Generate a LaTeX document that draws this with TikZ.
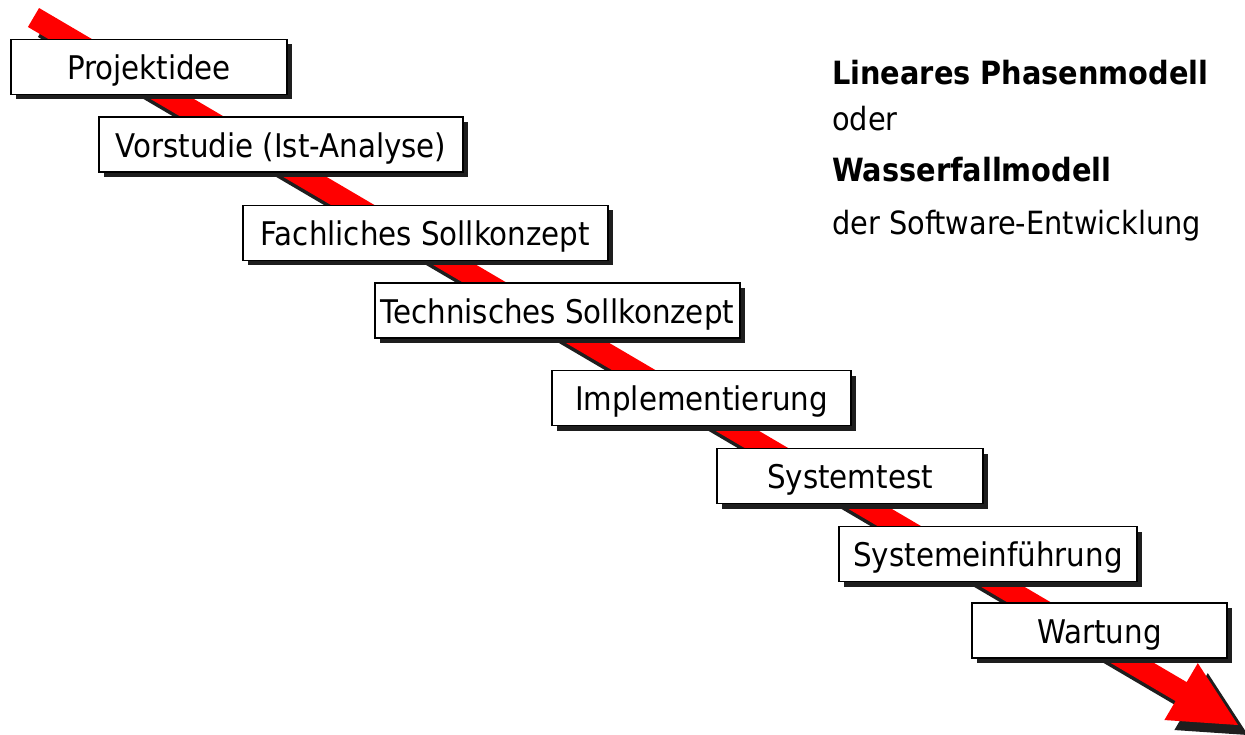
\documentclass[tikz,border=0pt]{standalone}
\usepackage{fontspec}
\setmainfont{DejaVu Sans Condensed}
\usetikzlibrary{shadows}
\definecolor{shadowgray}{HTML}{1E1E1E}
\definecolor{flowred}{HTML}{FF0000}
% outline of the long arrow, drawn along the x axis from its tail
\newcommand\waterfallarrow{(0,-11) -- (1331,-11) -- (1331,-33) -- (1397,0) -- (1331,33) -- (1331,11) -- (0,11) -- cycle}
\begin{document}
\begin{tikzpicture}[x=1pt,y=-1pt,
  phasebox/.style={draw=black, line width=1.6pt, fill=white, inner sep=0pt,
    minimum height=55pt, text height=25.5pt, text depth=0pt,
    font=\fontsize{32.6}{38}\selectfont,
    drop shadow={shadow xshift=5pt, shadow yshift=-5pt, fill=shadowgray, opacity=1}},
  titleline/.style={anchor=base west, inner sep=0pt, font=\fontsize{32}{38}\selectfont\bfseries},
  plainline/.style={anchor=base west, inner sep=0pt, font=\fontsize{32}{38}\selectfont}]
\useasboundingbox (0,0) rectangle (1245,735);

% arrow with its shadow
\fill[shadowgray, shift={(43.5,27.5)}, rotate=-30.43] \waterfallarrow;
\fill[flowred, shift={(33.5,17.5)}, rotate=-30.43] \waterfallarrow;

% phases
\node[phasebox, minimum width=276pt] (p1) at (149,67)    {Projektidee};
\node[phasebox, minimum width=364pt] (p2) at (281,144.5) {Vorstudie (Ist-Analyse)};
\node[phasebox, minimum width=365pt] (p3) at (425.5,233) {Fachliches Sollkonzept};
\node[phasebox, minimum width=365pt] (p4) at (557.5,310.5) {Technisches Sollkonzept};
\node[phasebox, minimum width=299pt] (p5) at (701.5,398) {Implementierung};
\node[phasebox, minimum width=266pt] (p6) at (850,476)   {Systemtest};
\node[phasebox, minimum width=298pt] (p7) at (988,554)   {Systemeinführung};
\node[phasebox, minimum width=255pt] (p8) at (1099.5,630.5) {Wartung};

% title
\node[titleline] (t1) at (832,85)  {Lineares Phasenmodell};
\node[plainline] (t2) at (832,131) {oder};
\node[titleline] (t3) at (832,182) {Wasserfallmodell};
\node[plainline] (t4) at (832,235) {der Software-Entwicklung};
\end{tikzpicture}
\end{document}
